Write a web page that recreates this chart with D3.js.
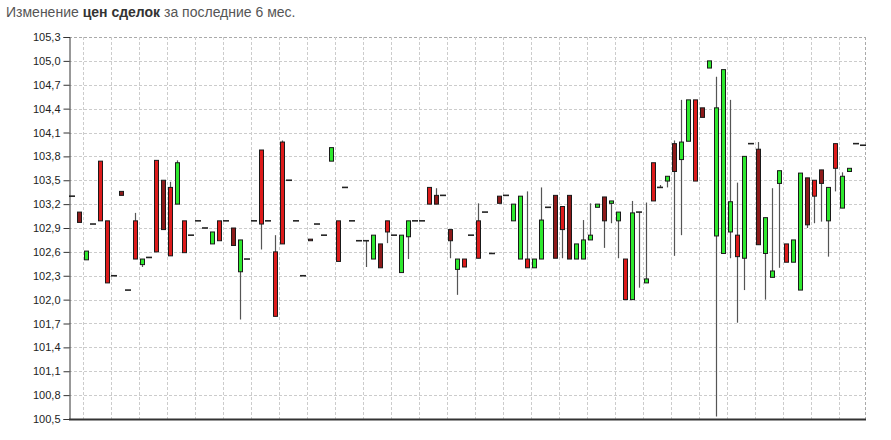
<!DOCTYPE html>
<html>
<head>
<meta charset="utf-8">
<script src="https://cdn.jsdelivr.net/npm/d3@7"></script>
<style>
  html, body { margin: 0; padding: 0; background: #fff; }
  svg { display: block; }
  text { font-family: Arial, "Liberation Sans", sans-serif; }
</style>
</head>
<body>
<svg id="chart" width="891" height="440"></svg>
<script>
// ---- data ----
const titleParts = ["Изменение ", "цен сделок", " за последние 6 мес."];

const tickValues = [100.5, 100.8, 101.1, 101.4, 101.7, 102.0, 102.3, 102.6, 102.9, 103.2, 103.5, 103.8, 104.1, 104.4, 104.7, 105.0, 105.3];
const tickLabels = ["100,5", "100,8", "101,1", "101,4", "101,7", "102,0", "102,3", "102,6", "102,9", "103,2", "103,5", "103,8", "104,1", "104,4", "104,7", "105,0", "105,3"];

const opens = [
103.30, 103.10, 102.50, 102.95, 103.74, 102.99, 102.30, 103.36, 102.12, 102.99,
102.44, 102.53, 103.75, 103.50, 103.41, 103.20, 102.99, 102.81, 102.99, 102.90,
102.70, 102.99, 102.99, 102.90, 102.35, 102.51, 102.99, 103.88, 102.99, 102.60,
103.98, 103.50, 102.99, 102.30, 102.76, 102.95, 102.81, 103.74, 102.99, 103.41,
102.99, 102.74, 102.74, 102.51, 102.70, 102.99, 102.81, 102.34, 102.79, 102.99,
102.99, 103.41, 103.31, 103.31, 102.88, 102.38, 102.51, 102.81, 102.99, 103.10,
102.58, 103.30, 103.31, 102.99, 102.51, 102.51, 102.40, 102.51, 103.16, 103.31,
103.17, 103.31, 102.51, 102.51, 102.75, 103.16, 103.29, 103.21, 102.99, 102.51,
102.00, 103.10, 102.21, 103.72, 103.41, 103.49, 103.96, 103.76, 103.99, 104.51,
104.41, 104.91, 102.80, 102.58, 102.85, 102.81, 102.52, 103.96, 103.89, 102.58,
102.28, 103.46, 102.70, 102.47, 102.12, 103.53, 103.50, 103.63, 102.99, 103.96,
103.15, 103.61, 103.96, 103.94];

const closes = [
103.30, 102.97, 102.61, 102.95, 102.99, 102.21, 102.30, 103.31, 102.12, 102.51,
102.51, 102.53, 102.60, 102.88, 102.55, 103.72, 102.59, 102.81, 102.99, 102.90,
102.85, 102.74, 102.99, 102.68, 102.75, 102.51, 102.99, 102.95, 102.99, 101.79,
102.70, 103.50, 102.99, 102.30, 102.74, 102.95, 102.81, 103.91, 102.48, 103.41,
102.99, 102.74, 102.74, 102.81, 102.40, 102.85, 102.81, 102.81, 102.99, 102.99,
102.99, 103.20, 103.20, 103.31, 102.74, 102.51, 102.41, 102.81, 102.52, 103.10,
102.58, 103.21, 103.31, 103.20, 103.30, 102.40, 102.51, 103.00, 103.16, 102.52,
102.88, 102.51, 102.70, 102.75, 102.81, 103.20, 102.99, 103.24, 103.10, 102.00,
103.09, 103.10, 102.26, 103.24, 103.41, 103.55, 103.61, 103.98, 104.51, 103.49,
104.29, 105.00, 104.41, 104.89, 103.23, 102.54, 103.80, 103.96, 102.69, 103.03,
102.36, 103.62, 102.47, 102.75, 103.59, 102.94, 103.30, 103.46, 103.41, 103.65,
103.55, 103.65, 103.96, 103.94];

const highs = [
103.30, 103.10, 102.61, 102.95, 103.74, 102.99, 102.30, 103.36, 102.12, 103.09,
102.51, 102.53, 103.75, 103.50, 103.48, 103.75, 102.99, 102.81, 102.99, 102.90,
102.85, 102.99, 102.99, 102.90, 102.75, 102.51, 102.99, 103.88, 102.99, 102.81,
104.00, 103.50, 102.99, 102.30, 102.76, 102.95, 102.81, 103.91, 102.99, 103.41,
102.99, 102.74, 102.74, 102.81, 102.70, 102.99, 102.81, 102.81, 102.99, 102.99,
102.99, 103.41, 103.40, 103.31, 102.88, 102.51, 102.51, 102.81, 103.21, 103.10,
102.58, 103.30, 103.31, 103.20, 103.30, 103.36, 102.51, 103.41, 103.16, 103.31,
103.17, 103.31, 102.70, 103.00, 103.21, 103.20, 103.29, 103.24, 103.10, 102.51,
103.24, 103.10, 103.22, 103.72, 103.44, 103.55, 104.00, 104.51, 104.51, 104.51,
104.41, 105.00, 104.80, 104.89, 104.51, 103.47, 103.80, 103.96, 103.98, 103.03,
103.40, 103.62, 102.70, 102.75, 103.59, 103.53, 103.50, 103.63, 103.41, 103.96,
103.60, 103.65, 103.96, 103.94];

const lows = [
103.30, 102.97, 102.50, 102.95, 102.99, 102.21, 102.30, 103.31, 102.12, 102.51,
102.41, 102.53, 102.60, 102.88, 102.55, 103.20, 102.59, 102.81, 102.99, 102.90,
102.70, 102.74, 102.99, 102.68, 101.75, 102.51, 102.99, 102.63, 102.99, 101.79,
102.70, 103.50, 102.99, 102.30, 102.74, 102.95, 102.81, 103.74, 102.48, 103.41,
102.99, 102.74, 102.41, 102.51, 102.40, 102.71, 102.81, 102.34, 102.51, 102.99,
102.99, 103.20, 103.20, 103.31, 102.52, 102.06, 102.41, 102.81, 102.52, 103.10,
102.58, 103.21, 103.31, 102.99, 102.51, 102.40, 102.40, 102.51, 103.16, 102.52,
102.52, 102.51, 102.51, 102.51, 102.75, 103.16, 102.65, 102.96, 102.52, 102.00,
102.00, 102.15, 102.21, 103.24, 103.41, 103.41, 102.55, 102.81, 103.99, 103.49,
104.29, 104.91, 100.53, 102.58, 102.52, 101.71, 102.12, 103.96, 102.69, 102.00,
102.28, 102.40, 102.47, 102.47, 102.12, 102.90, 102.96, 102.98, 102.54, 103.36,
103.15, 103.61, 103.96, 103.94];

// g = up, r = down, d = down (dark), n = unchanged
const tones = (
"ndgnrrndnr" + "gnrdrgrnnn" + "grndgnnrnr" + "rnnndnngrn" +
"nnngdrnggn" + "nrdndgrnrn" + "ndnggrggnd" + "rdggggdggr" +
"gngrngdggr" + "dggggrgndg" + "ggrggdrdgr" + "ggnn").split("");

const gridEvery = 4; // vertical grid line every 4 sessions

// ---- chart ----
(function () {
const svg = d3.select("#chart");
const mLeft = 69, mRight = 865, mTop = 37, mBottom = 419;
const n = opens.length;

const x = d3.scaleLinear().domain([-0.47, n - 1 + 0.24]).range([mLeft, mRight]);
const y = d3.scaleLinear().domain([100.5, 105.3]).range([mBottom, mTop]);

// title
const title = svg.append("text").attr("x", 6).attr("y", 17)
  .style("font-size", "14px").style("fill", "#555");
titleParts.forEach((t, i) => {
  title.append("tspan").text(t)
    .style("font-weight", i === 1 ? "bold" : "normal")
    .style("fill", i === 1 ? "#333" : "#555");
});

// horizontal grid
const grid = svg.append("g");
grid.selectAll("line.h").data(tickValues.filter(v => v > 100.5)).enter().append("line")
  .attr("x1", mLeft).attr("x2", mRight)
  .attr("y1", d => Math.round(y(d)) + 0.5).attr("y2", d => Math.round(y(d)) + 0.5)
  .attr("stroke", d => d === 105.3 ? "#aaa" : "#ccc")
  .attr("stroke-dasharray", "3,2");

// vertical grid
const vIdx = d3.range(1.5, n - 1, gridEvery);
grid.selectAll("line.v").data(vIdx).enter().append("line")
  .attr("x1", d => Math.round(x(d)) + 0.5).attr("x2", d => Math.round(x(d)) + 0.5)
  .attr("y1", mTop).attr("y2", mBottom)
  .attr("stroke", "#ccc").attr("stroke-dasharray", "3,2");

// right border
grid.append("line").attr("x1", mRight + 0.5).attr("x2", mRight + 0.5)
  .attr("y1", mTop).attr("y2", mBottom)
  .attr("stroke", "#aaa").attr("stroke-dasharray", "3,2");

// y axis
const yAxis = d3.axisLeft(y).tickValues(tickValues)
  .tickFormat((d, i) => tickLabels[i]).tickSize(6).tickPadding(3);
const ya = svg.append("g").attr("transform", `translate(${mLeft + 0.5},0)`).call(yAxis);
ya.select(".domain").attr("stroke", "#333");
ya.selectAll(".tick line").attr("stroke", "#333");
ya.selectAll(".tick text").style("font-size", "11px").style("fill", "#222")
  .style("font-family", "Arial, 'Liberation Sans', sans-serif");

// bottom axis line
svg.append("line").attr("x1", mLeft).attr("x2", mRight + 1)
  .attr("y1", mBottom + 0.5).attr("y2", mBottom + 0.5)
  .attr("stroke", "#333").attr("stroke-width", 2);

// candles
const data = opens.map((o, i) => ({ i, o, c: closes[i], h: highs[i], l: lows[i], t: tones[i] }));
const fills = { g: "#2ee82e", r: "#dd1b1b", d: "#8e1a1a" };
const cg = svg.append("g");
const cand = cg.selectAll("g.c").data(data).enter().append("g");

cand.filter(d => d.h > Math.max(d.o, d.c) + 0.001 || d.l < Math.min(d.o, d.c) - 0.001)
  .append("line")
  .attr("x1", d => Math.round(x(d.i)) + 0.5).attr("x2", d => Math.round(x(d.i)) + 0.5)
  .attr("y1", d => y(d.h)).attr("y2", d => y(d.l))
  .attr("stroke", "#555").attr("stroke-width", 1.2);

cand.filter(d => d.t !== "n").append("rect")
  .attr("x", d => Math.round(x(d.i)) - 2 + 0.5)
  .attr("width", 4)
  .attr("y", d => y(Math.max(d.o, d.c)))
  .attr("height", d => Math.max(1, y(Math.min(d.o, d.c)) - y(Math.max(d.o, d.c))))
  .attr("fill", d => fills[d.t])
  .attr("stroke", "#1a1a1a").attr("stroke-width", 1);

cand.filter(d => d.t === "n").append("line")
  .attr("x1", d => Math.round(x(d.i)) - 3).attr("x2", d => Math.round(x(d.i)) + 3)
  .attr("y1", d => y(d.o)).attr("y2", d => y(d.o))
  .attr("stroke", "#222").attr("stroke-width", 1.6);
})();
</script>
</body>
</html>
